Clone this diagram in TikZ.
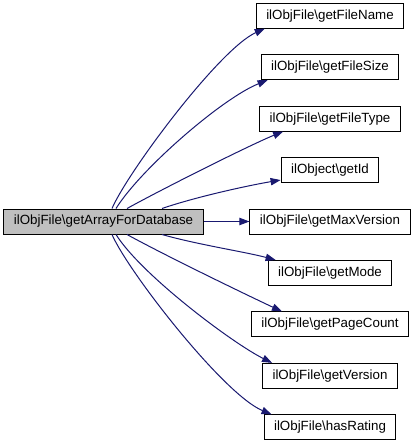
\documentclass[tikz,border=0pt]{standalone}
\usepackage{fontspec}
\setmainfont{Liberation Sans}
\usepackage{xcolor}
\definecolor{edgeblue}{HTML}{191970}
\definecolor{rootgray}{HTML}{BFBFBF}
\usetikzlibrary{arrows.meta, positioning, calc}

\begin{document}
\begin{tikzpicture}[
        x=0.75pt, y=-0.75pt,
        node distance=19.1pt,
        font=\fontsize{10}{12}\selectfont,
        fn_box/.style={
            rectangle,
            draw=black,
            line width=0.75pt,
            fill=white,
            inner xsep=7.5pt,
            minimum height=18.75pt
        },
        root_box/.style={
            fn_box,
            fill=rootgray
        },
        call/.style={
            -{Triangle[length=7.5pt, width=5.5pt]},
            draw=edgeblue,
            line width=0.75pt
        }
    ]

    \useasboundingbox (0,0) rectangle (416,443);

    % Caller
    \node[root_box] (main) at (103.5,221.5) {ilObjFile\textbackslash getArrayForDatabase};

    % Callees (one column)
    \node[fn_box] (maxver) at (330,221.5) {ilObjFile\textbackslash getMaxVersion};
    \node[fn_box, above=of maxver] (objid) {ilObject\textbackslash getId};
    \node[fn_box, above=of objid] (ftype) {ilObjFile\textbackslash getFileType};
    \node[fn_box, above=of ftype] (fsize) {ilObjFile\textbackslash getFileSize};
    \node[fn_box, above=of fsize] (fname) {ilObjFile\textbackslash getFileName};
    \node[fn_box, below=of maxver] (fmode) {ilObjFile\textbackslash getMode};
    \node[fn_box, below=of fmode] (pcount) {ilObjFile\textbackslash getPageCount};
    \node[fn_box, below=of pcount] (fver) {ilObjFile\textbackslash getVersion};
    \node[fn_box, below=of fver] (rating) {ilObjFile\textbackslash hasRating};

    % Calls upwards
    \draw[call] ($(main.north)+(8.5,0)$) .. controls +(16,-37) and +(-45,20) .. ($(fname.south west)+(9,0)$);
    \draw[call] ($(main.north)+(12.5,0)$) .. controls +(25,-40) and +(-45,18) .. ($(fsize.south west)+(7,0)$);
    \draw[call] ($(main.north)+(23.5,0)$) .. controls +(40,-22) and +(-30,12) .. ($(ftype.south west)+(24,0)$);
    \draw[call] ($(main.north)+(58.5,0)$) .. controls +(35,-12) and +(-30,5) .. ($(objid.south west)+(0,-3)$);

    % Straight call
    \draw[call] (main.east) -- (maxver.west);

    % Calls downwards
    \draw[call] ($(main.south)+(58.5,0)$) .. controls +(35,10) and +(-30,-8) .. ($(fmode.north west)+(8,0)$);
    \draw[call] ($(main.south)+(23.5,0)$) .. controls +(40,22) and +(-30,-14) .. ($(pcount.north west)+(31,0)$);
    \draw[call] ($(main.south)+(12.5,0)$) .. controls +(25,40) and +(-40,-20) .. ($(fver.north west)+(10,0)$);
    \draw[call] ($(main.south)+(8.5,0)$) .. controls +(16,37) and +(-48,-20) .. ($(rating.north west)+(8,0)$);

\end{tikzpicture}
\end{document}
